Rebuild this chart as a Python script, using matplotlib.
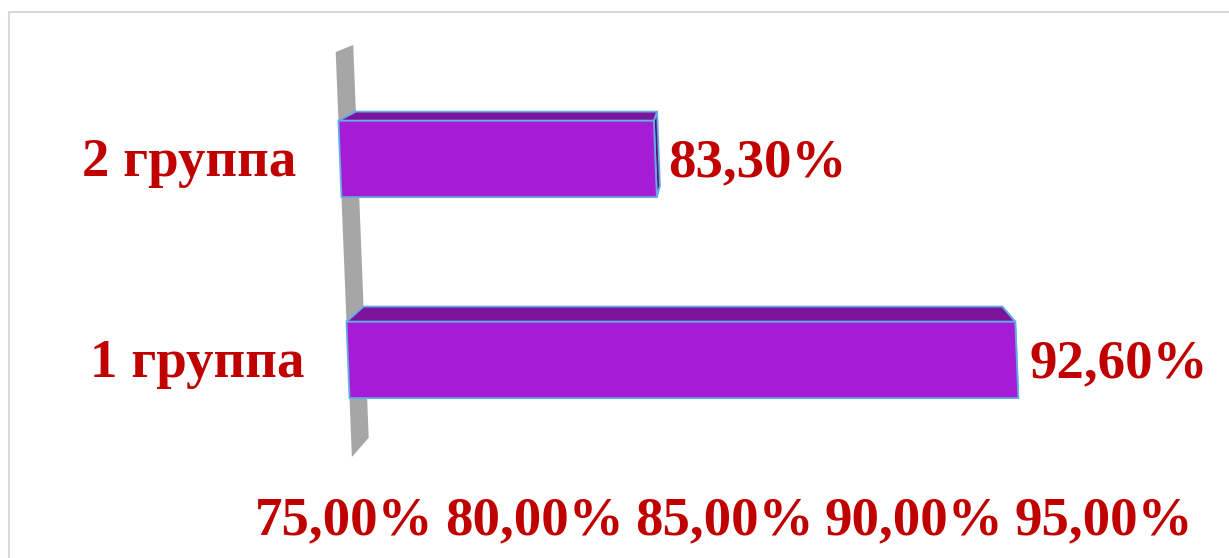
import numpy as np
import matplotlib.pyplot as plt
from matplotlib.patches import Polygon
from matplotlib.lines import Line2D
from matplotlib.transforms import Affine2D, offset_copy

groups = ['1 группа', '2 группа']
values = [92.6, 83.3]
value_labels = ['92,60%', '83,30%']
ticks = [75, 80, 85, 90, 95]
tick_labels = ['75,00%', '80,00%', '85,00%', '90,00%', '95,00%']

red = '#C00000'
front_col = '#A61CD6'
top_col = '#7B149C'
side_col = '#5A0E74'
edge_col = '#62ACE4'
wall_col = '#A6A6A6'

plt.rcParams['font.family'] = ['Liberation Serif', 'DejaVu Serif']
plt.rcParams['font.weight'] = 'bold'
fs = 39.5

W, H, dpi = 1229, 558, 100
fig = plt.figure(figsize=(W / dpi, H / dpi), dpi=dpi)
ax = fig.add_axes([344 / W, 101 / H, 760 / W, 405 / H])
ax.set_xlim(75, 95)
ax.set_ylim(-0.483, 1.532)
ax.patch.set_visible(False)
for s in ax.spines.values():
    s.set_visible(False)
ax.set_xticks(ticks, tick_labels)
ax.set_yticks([])
ax.tick_params(axis='x', length=0, pad=28, labelsize=fs, labelcolor=red)

# slight shear so the chart leans like the 3d view
k, y0 = 0.04, 298
shear = Affine2D(np.array([[1, -k, k * y0], [0, 1, 0], [0, 0, 1]]))
trans = ax.transData + shear
to_data = ax.transData.inverted()

# depth: back edges pulled toward a vanishing point (display px)
vx, vy, sx, sy = 726, 741, 0.045, 0.03


def back(pts):
    pts = np.asarray(pts, float)
    out = pts.copy()
    out[:, 0] += sx * (vx - pts[:, 0])
    out[:, 1] += sy * (vy - pts[:, 1])
    return out


def face(pts, color, z, edge=edge_col):
    poly = Polygon(to_data.transform(np.asarray(pts)), closed=True,
                   facecolor=color, edgecolor=edge, lw=1.3,
                   joinstyle='miter', zorder=z, clip_on=False)
    ax.add_patch(poly)


# side wall
xmin = ax.get_xlim()[0]
ylo, yhi = ax.get_ylim()
wf = trans.transform([[xmin, ylo], [xmin, yhi]])
wb = back(wf)
face([wf[0], wf[1], wb[1], wb[0]], wall_col, 1, edge='none')

h = 0.38
for i, v in enumerate(values):
    fl_b, fl_t, fr_t, fr_b = trans.transform(
        [[xmin, i - h / 2], [xmin, i + h / 2], [v, i + h / 2], [v, i - h / 2]])
    bl_t, br_t, br_b = back([fl_t, fr_t, fr_b])
    face([fr_t, br_t, br_b, fr_b], side_col, 2)
    face([fl_t, bl_t, br_t, fr_t], top_col, 3)
    face([fl_b, fl_t, fr_t, fr_b], front_col, 4)

    ax.text(v, i, value_labels[i],
            transform=offset_copy(trans, fig, x=13, y=-4, units='dots'),
            ha='left', va='center', fontsize=fs, color=red)
    ax.text(xmin, i, groups[i],
            transform=offset_copy(trans, fig, x=-44, y=-4, units='dots'),
            ha='right', va='center', fontsize=fs, color=red)

# chart area frame
fig.add_artist(Line2D([9 / W, 9 / W, 1.02], [-0.05, 1 - 12 / H, 1 - 12 / H],
                      transform=fig.transFigure, color='#D9D9D9', lw=1.5))

fig.savefig('out.png', dpi=dpi)
